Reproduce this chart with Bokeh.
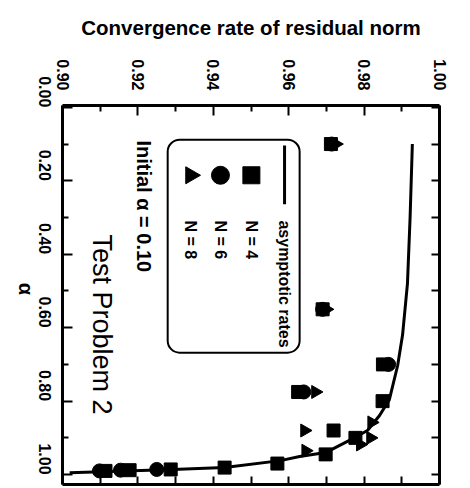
import math
from bokeh.plotting import figure
from bokeh.models import Range1d, LinearAxis, FixedTicker, NumeralTickFormatter, BoxAnnotation, Label
from bokeh.embed import file_html
from bokeh.resources import INLINE

# ---- data ----
rate_ticks = [0.90, 0.92, 0.94, 0.96, 0.98, 1.00]
rate_minor = [0.91, 0.93, 0.95, 0.97, 0.99]
alpha_ticks = [0.0, 0.2, 0.4, 0.6, 0.8, 1.0]
alpha_minor = [0.1, 0.3, 0.5, 0.7, 0.9]

alpha_asym = [0.10, 0.30, 0.48, 0.62, 0.703, 0.796, 0.839, 0.880, 0.907, 0.940, 0.951, 0.962, 0.981, 0.986, 0.995]
rate_asym = [0.9928, 0.9922, 0.9915, 0.9902, 0.9889, 0.9867, 0.9841, 0.9809, 0.9761, 0.9698, 0.9629, 0.9578, 0.9430, 0.9292, 0.9019]

alpha_n4 = [0.10, 0.55, 0.70, 0.775, 0.80, 0.88, 0.90, 0.945, 0.970, 0.981, 0.986, 0.988, 0.990]
rate_n4 = [0.9712, 0.9690, 0.9850, 0.9625, 0.9849, 0.9719, 0.9777, 0.9698, 0.9570, 0.9430, 0.9287, 0.9178, 0.9114]

alpha_n6 = [0.10, 0.55, 0.70, 0.775, 0.986, 0.988, 0.990]
rate_n6 = [0.9714, 0.9690, 0.9865, 0.9640, 0.9250, 0.9154, 0.9098]

alpha_n8 = [0.10, 0.55, 0.775, 0.858, 0.88, 0.90, 0.918, 0.935]
rate_n8 = [0.9725, 0.9700, 0.9671, 0.9820, 0.9642, 0.9817, 0.9790, 0.9645]

FONT = "Liberation Sans"

p = figure(frame_width=377, frame_height=379, output_backend="svg", toolbar_location=None,
           x_range=Range1d(0.90, 1.00), y_range=Range1d(1.027, -0.005),
           x_axis_location="above", min_border_left=60, min_border_top=105,
           min_border_right=22, min_border_bottom=3)
p.grid.visible = False
p.outline_line_color = None
p.background_fill_color = "white"


def base_style(ax):
    ax.axis_line_width = 3
    ax.axis_line_color = "black"
    ax.major_tick_out = 0
    ax.minor_tick_out = 0
    ax.major_tick_line_width = 2
    ax.minor_tick_line_width = 2
    ax.major_tick_line_color = "black"
    ax.minor_tick_line_color = "black"


def labelled(ax, ticks, minor):
    base_style(ax)
    ax.ticker = FixedTicker(ticks=ticks, minor_ticks=minor)
    ax.formatter = NumeralTickFormatter(format="0.00")
    ax.major_tick_in = 10
    ax.minor_tick_in = 6
    ax.major_label_text_font = FONT
    ax.major_label_text_font_style = "bold"
    ax.major_label_text_font_size = "16px"
    ax.major_label_text_color = "black"
    ax.major_label_orientation = -math.pi / 2


def mirror(ax, ticks, minor):
    # mirror axis: ticks only (drawn as minor ticks so that no labels exist)
    base_style(ax)
    ax.ticker = FixedTicker(ticks=[], minor_ticks=sorted(ticks + minor))
    ax.minor_tick_in = 8
    ax.major_label_standoff = 0


top = p.xaxis[0]
labelled(top, rate_ticks, rate_minor)
top.major_label_standoff = 15
top.axis_label = "Convergence rate of residual norm"
top.axis_label_text_font = FONT
top.axis_label_text_font_style = "bold"
top.axis_label_text_font_size = "20.5px"
top.axis_label_text_color = "black"
top.axis_label_standoff = 17

left = p.yaxis[0]
labelled(left, alpha_ticks, alpha_minor)
left.major_label_standoff = 18
left.axis_label = "α"
left.axis_label_text_font = FONT
left.axis_label_text_font_style = "bold"
left.axis_label_text_font_size = "20px"
left.axis_label_text_color = "black"
left.axis_label_standoff = 4
left.axis_label_orientation = -math.pi / 2

right = LinearAxis()
mirror(right, alpha_ticks, alpha_minor)
p.add_layout(right, "right")
bottom = LinearAxis()
mirror(bottom, rate_ticks, rate_minor)
p.add_layout(bottom, "below")

# ---- data marks ----
p.line(rate_asym, alpha_asym, line_width=3, line_color="black")
p.scatter(rate_n4, alpha_n4, marker="square", size=13, color="black")
p.scatter(rate_n6, alpha_n6, marker="circle", size=14, color="black")
p.scatter(rate_n8, alpha_n8, marker="triangle", size=13, angle=-math.pi / 2, color="black")

# ---- legend (rotated, drawn by hand) ----
p.add_layout(BoxAnnotation(left=0.9279, right=0.9629, top=0.088, bottom=0.668,
                           fill_color="white", fill_alpha=1, line_color="black", line_alpha=1,
                           line_width=2, border_radius=12, level="underlay"))
p.line([0.9589, 0.9589], [0.104, 0.264], line_width=3, line_color="black")
p.scatter([0.9501], [0.185], marker="square", size=17, color="black")
p.scatter([0.9419], [0.185], marker="circle", size=18, color="black")
p.scatter([0.9340], [0.185], marker="triangle", size=17, angle=-math.pi / 2, color="black")

legend_texts = [("asymptotic rates", 0.9589), ("N = 4", 0.9501), ("N = 6", 0.9419), ("N = 8", 0.9340)]
for txt, xv in legend_texts:
    p.add_layout(Label(x=xv, y=0.308, text=txt, angle=-math.pi / 2, text_align="left",
                       text_baseline="middle", text_font=FONT, text_font_style="bold",
                       text_font_size="16px", text_color="black"))

p.add_layout(Label(x=0.9215, y=0.090, text="Initial α = 0.10", angle=-math.pi / 2,
                   text_align="left", text_baseline="middle", text_font=FONT,
                   text_font_style="bold", text_font_size="20px", text_color="black"))
p.add_layout(Label(x=0.9106, y=0.346, text="Test Problem 2", angle=-math.pi / 2,
                   text_align="left", text_baseline="middle", text_font=FONT,
                   text_font_size="27px", text_color="black"))

open("out.html", "w").write(file_html(p, INLINE))
